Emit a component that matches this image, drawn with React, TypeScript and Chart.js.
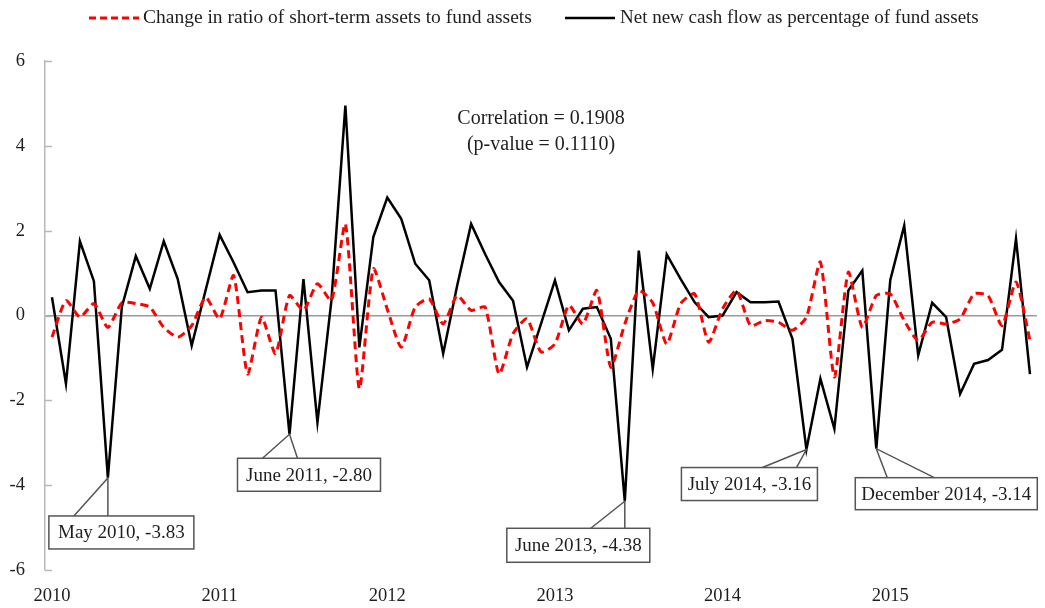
import React, { useEffect, useRef } from 'react';
import { Chart, registerables } from 'chart.js';

Chart.register(...registerables);

const years = ['2010', '2011', '2012', '2013', '2014', '2015'];
const monthNames = ['Jan', 'Feb', 'Mar', 'Apr', 'May', 'Jun', 'Jul', 'Aug', 'Sep', 'Oct', 'Nov', 'Dec'];
const categories = years.flatMap((yr) => monthNames.map((m) => `${m} ${yr}`)).slice(0, 71);

const shortTermChange = [
  -0.51, 0.35, -0.04, 0.28, -0.28, 0.30, 0.28, 0.20, -0.28, -0.51, -0.24, 0.43,
  -0.08, 0.94, -1.38, -0.04, -0.90, 0.47, 0.12, 0.75, 0.35, 2.16, -1.73, 1.10,
  0.15, -0.75, 0.20, 0.39, -0.20, 0.47, 0.12, 0.20, -1.38, -0.43, -0.08, -0.86,
  -0.67, 0.24, -0.20, 0.59, -1.22, -0.20, 0.59, 0.30, -0.67, 0.28, 0.51, -0.63,
  0.16, 0.59, -0.24, -0.12, -0.16, -0.35, -0.04, 1.26, -1.45, 1.02, -0.28, 0.47,
  0.51, -0.12, -0.59, -0.16, -0.20, -0.08, 0.51, 0.47, -0.24, 0.79, -0.59,
];

const netCashFlow = [
  0.43, -1.61, 1.75, 0.81, -3.83, 0.20, 1.40, 0.63, 1.75, 0.86, -0.71, 0.60,
  1.90, 1.25, 0.55, 0.59, 0.59, -2.80, 0.86, -2.52, 0.35, 4.95, -0.75, 1.85,
  2.78, 2.28, 1.22, 0.83, -0.90, 0.70, 2.16, 1.45, 0.79, 0.35, -1.22, -0.20,
  0.83, -0.35, 0.16, 0.20, -0.55, -4.38, 1.53, -1.26, 1.44, 0.86, 0.31, -0.04,
  0.00, 0.55, 0.31, 0.31, 0.33, -0.55, -3.16, -1.49, -2.67, 0.59, 1.06, -3.14,
  0.83, 2.12, -0.94, 0.30, -0.04, -1.85, -1.14, -1.05, -0.81, 1.81, -1.38,
];

const yTicks = [-6, -4, -2, 0, 2, 4, 6];

const seriesNames = [
  'Change in ratio of short-term assets to fund assets',
  'Net new cash flow as percentage of fund assets',
];

const correlationLines = ['Correlation = 0.1908', '(p-value = 0.1110)'];

// callouts: index of annotated month, label text
const calloutIndex = [4, 17, 41, 54, 59];
const calloutText = ['May 2010, -3.83', 'June 2011, -2.80', 'June 2013, -4.38', 'July 2014, -3.16', 'December 2014, -3.14'];
// layout of each callout box relative to its point: [dx, dy, w, h, wedgeA, wedgeB]
const calloutLayout = [
  [-59, 38, 145, 33, -34, 0],
  [-52, 24, 143, 33, -27, 8],
  [-118, 27, 143, 34, -34, 0],
  [-125, 18, 136, 33, -44, -10],
  [-21, 29, 182, 32, 11, 58],
];

const FONT = '"Liberation Serif", "DejaVu Serif", serif';
const TEXT = '#1e1e1e';

const overlay = {
  id: 'overlay',
  afterDatasetsDraw(chart: any) {
    const ctx = chart.ctx as CanvasRenderingContext2D;
    const xs = chart.scales.x;
    const ys = chart.scales.y;
    ctx.save();

    // inward y-axis ticks
    ctx.strokeStyle = '#b8b8b8';
    ctx.lineWidth = 1.5;
    for (const v of yTicks) {
      const py = Math.round(ys.getPixelForValue(v)) + 0.5;
      ctx.beginPath();
      ctx.moveTo(xs.left, py);
      ctx.lineTo(xs.left + 7, py);
      ctx.stroke();
    }

    // legend
    ctx.font = `19.5px ${FONT}`;
    ctx.textBaseline = 'middle';
    ctx.textAlign = 'left';
    ctx.fillStyle = TEXT;
    ctx.strokeStyle = '#ff0000';
    ctx.lineWidth = 3;
    ctx.setLineDash([7, 4]);
    ctx.beginPath();
    ctx.moveTo(89, 18);
    ctx.lineTo(139, 18);
    ctx.stroke();
    ctx.setLineDash([]);
    ctx.fillText(seriesNames[0], 143, 18);
    ctx.strokeStyle = '#000';
    ctx.lineWidth = 2.5;
    ctx.beginPath();
    ctx.moveTo(565, 18);
    ctx.lineTo(615, 18);
    ctx.stroke();
    ctx.font = `19px ${FONT}`;
    ctx.fillText(seriesNames[1], 620, 18);

    // correlation text
    ctx.font = `20px ${FONT}`;
    ctx.textAlign = 'center';
    ctx.fillText(correlationLines[0], 541, 119);
    ctx.fillText(correlationLines[1], 541, 145);

    // callouts
    ctx.font = `19px ${FONT}`;
    calloutIndex.forEach((idx, k) => {
      const px = xs.getPixelForValue(idx);
      const py = ys.getPixelForValue(netCashFlow[idx]);
      const [dx, dy, w, h, wa, wb] = calloutLayout[k];
      const bx = px + dx;
      const by = py + dy;
      ctx.fillStyle = '#fff';
      ctx.fillRect(bx, by, w, h);
      ctx.strokeStyle = '#555';
      ctx.lineWidth = 1.5;
      ctx.strokeRect(bx, by, w, h);
      ctx.beginPath();
      ctx.moveTo(px + wa, by);
      ctx.lineTo(px, py);
      ctx.lineTo(px + wb, by);
      ctx.stroke();
      ctx.fillStyle = TEXT;
      ctx.textAlign = 'center';
      ctx.textBaseline = 'middle';
      ctx.fillText(calloutText[k], bx + w / 2, by + h / 2 + 1);
    });

    ctx.restore();
  },
};

export default function App() {
  const canvasRef = useRef<HTMLCanvasElement | null>(null);

  useEffect(() => {
    document.body.style.margin = '0';
    const canvas = canvasRef.current;
    if (!canvas) return;
    const chart = new Chart(canvas, {
      type: 'line',
      data: {
        labels: categories,
        datasets: [
          {
            label: seriesNames[0],
            data: shortTermChange,
            borderColor: '#ff0000',
            borderWidth: 3,
            borderDash: [8, 5],
            pointRadius: 0,
            tension: 0.2,
            fill: false,
          },
          {
            label: seriesNames[1],
            data: netCashFlow,
            borderColor: '#000000',
            borderWidth: 2.5,
            pointRadius: 0,
            tension: 0,
            fill: false,
          },
        ],
      },
      options: {
        animation: false,
        responsive: false,
        devicePixelRatio: 1,
        layout: { padding: { top: 61, right: 5, left: 0, bottom: 0 } },
        plugins: {
          legend: { display: false },
          tooltip: { enabled: false },
          title: { display: false },
        },
        scales: {
          x: {
            offset: true,
            grid: { display: false, drawTicks: false },
            border: { display: false },
            ticks: {
              autoSkip: false,
              maxRotation: 0,
              minRotation: 0,
              padding: 15,
              color: TEXT,
              font: { family: FONT, size: 18.5 },
              callback: (_v: any, i: number) => (i % 12 === 0 ? years[i / 12] : ''),
            },
            afterFit: (s: any) => {
              s.height = 38;
            },
          },
          y: {
            min: -6,
            max: 6,
            ticks: {
              stepSize: 2,
              padding: 20,
              color: TEXT,
              font: { family: FONT, size: 18.5 },
            },
            grid: {
              drawTicks: false,
              lineWidth: 1.5,
              color: (c: any) => (c.tick && c.tick.value === 0 ? '#9a9a9a' : 'rgba(0,0,0,0)'),
            },
            border: { display: true, color: '#b8b8b8', width: 1.5 },
            afterFit: (s: any) => {
              s.width = 45;
            },
          },
        },
      },
      plugins: [overlay],
    });
    return () => chart.destroy();
  }, []);

  return (
    <div style={{ width: 1045, height: 608, background: '#fff' }}>
      <canvas ref={canvasRef} width={1045} height={608} style={{ display: 'block' }} />
    </div>
  );
}
